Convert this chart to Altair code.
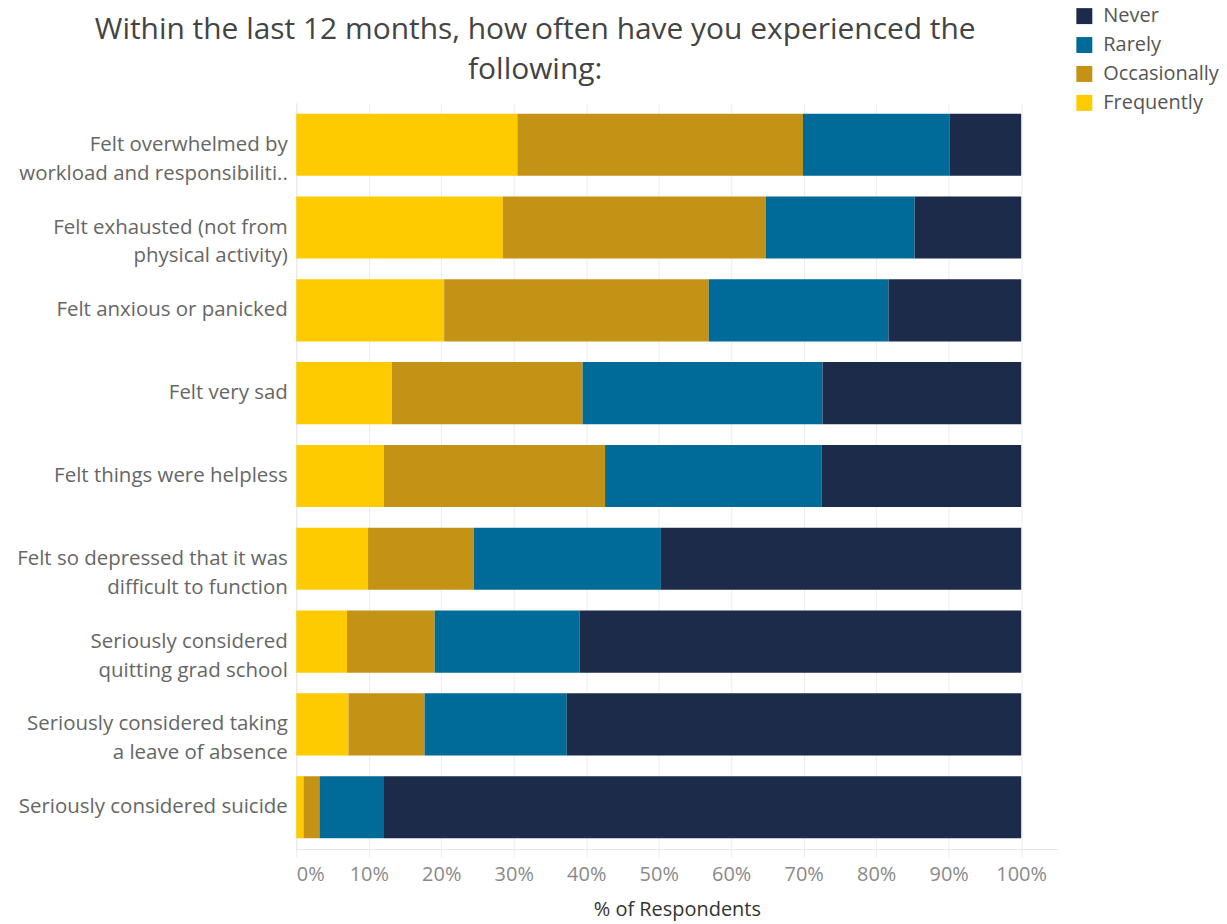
import altair as alt
import pandas as pd

categories = [
    "Felt overwhelmed by|workload and responsibiliti..",
    "Felt exhausted (not from|physical activity)",
    "Felt anxious or panicked",
    "Felt very sad",
    "Felt things were helpless",
    "Felt so depressed that it was|difficult to function",
    "Seriously considered|quitting grad school",
    "Seriously considered taking|a leave of absence",
    "Seriously considered suicide",
]
frequently = [30.5, 28.5, 20.4, 13.2, 12.1, 9.9, 7.0, 7.2, 1.0]
occasionally = [39.4, 36.3, 36.5, 26.3, 30.5, 14.6, 12.1, 10.5, 2.2]
rarely = [20.2, 20.5, 24.8, 33.1, 29.9, 25.8, 20.0, 19.6, 8.9]
never = [9.9, 14.7, 18.3, 27.4, 27.5, 49.7, 60.9, 62.7, 87.9]

responses = ["Never", "Rarely", "Occasionally", "Frequently"]
colors = ["#1b2b49", "#006a98", "#c49214", "#fdcb00"]
stack_order = {"Frequently": 0, "Occasionally": 1, "Rarely": 2, "Never": 3}

rows = []
for i, c in enumerate(categories):
    for r, vals in (("Frequently", frequently), ("Occasionally", occasionally),
                    ("Rarely", rarely), ("Never", never)):
        rows.append({"item": c, "response": r, "pct": vals[i], "ord": stack_order[r]})
df = pd.DataFrame(rows)

FONT = "Open Sans"

chart = alt.Chart(df).mark_bar().encode(
    y=alt.Y("item:N", sort=categories, title=None,
            scale=alt.Scale(paddingInner=0.25, paddingOuter=0.13),
            axis=alt.Axis(labelExpr="split(datum.label, '|')", labelFontSize=20.5,
                          labelColor="#666666", labelFont=FONT, labelLineHeight=29,
                          labelPadding=9, ticks=False, domainColor="#e8e8e8",
                          labelLimit=400)),
    x=alt.X("pct:Q", stack="zero", title="% of Respondents",
            scale=alt.Scale(domain=[0, 105], nice=False),
            axis=alt.Axis(values=list(range(0, 101, 10)), labelExpr="datum.value + '%'",
                          labelAlign={"condition": {"test": "datum.value === 0", "value": "left"},
                                      "value": "center"},
                          labelFontSize=20, labelColor="#8a8a8a", labelFont=FONT,
                          labelPadding=8, tickColor="#ececec", tickSize=8,
                          gridColor="#ececec", domainColor="#e8e8e8",
                          titleFontSize=20, titleFont=FONT, titleColor="#333333",
                          titleFontWeight="normal", titlePadding=15)),
    color=alt.Color("response:N", scale=alt.Scale(domain=responses, range=colors),
                    legend=alt.Legend(title=None, orient="none", legendX=780, legendY=-97,
                                      symbolType="square", symbolSize=256,
                                      symbolStrokeWidth=0, labelFontSize=20,
                                      labelFont=FONT, labelColor="#555555",
                                      rowPadding=9, labelOffset=9)),
    order=alt.Order("ord:Q"),
).properties(
    width=763,
    height=748,
    padding={"left": 8, "top": -3, "right": 0, "bottom": 0},
    title=alt.TitleParams(
        text=["Within the last 12 months, how often have you experienced the", "following:"],
        fontSize=30, font=FONT, color="#444444", fontWeight="normal",
        anchor="middle", dx=-142, lineHeight=40, offset=-79,
    ),
).configure_view(stroke=None)

chart.save("out.html", embed_options={"renderer": "svg", "actions": False})
